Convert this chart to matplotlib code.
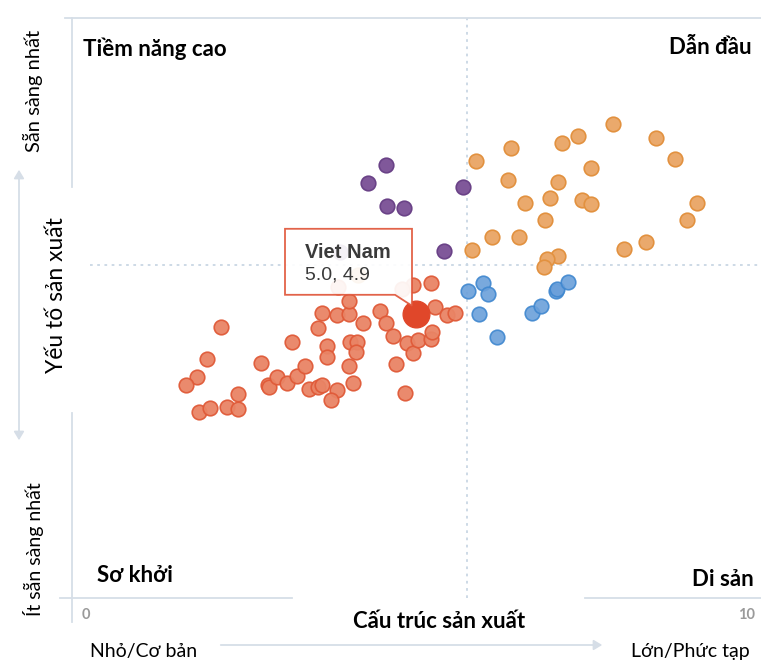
import matplotlib
matplotlib.use("Agg")
import matplotlib.pyplot as plt
import matplotlib.transforms as mtransforms
from matplotlib.patches import Polygon, FancyArrowPatch
from matplotlib.lines import Line2D

plt.rcParams['font.family'] = ['Lato', 'DejaVu Sans']

# ---------------- data ----------------
red_x = [2.16, 1.96, 1.82, 1.66, 1.85, 2.01, 2.25, 2.41, 2.41, 2.75, 2.85, 2.86, 2.98, 3.13,
         3.27, 3.39, 3.20, 3.58, 3.63, 3.85, 4.03, 4.03, 4.23, 3.71, 3.71, 4.04, 4.14, 4.13,
         4.03, 4.08, 3.85, 3.76, 3.44, 3.58, 3.63, 4.48, 4.56, 4.67, 4.71, 4.84, 4.87, 4.96,
         5.03, 5.22, 5.23, 4.96, 5.22, 5.28, 5.45, 5.57, 3.87, 4.80]
red_y = [4.67, 4.12, 3.81, 3.67, 3.21, 3.28, 3.29, 3.26, 3.52, 4.05, 3.67, 3.64, 3.81, 3.71,
         3.83, 4.00, 4.41, 4.66, 4.91, 4.88, 4.90, 5.12, 4.74, 4.34, 4.16, 4.41, 4.41, 4.24,
         4.00, 3.71, 3.59, 3.41, 3.60, 3.64, 3.67, 4.95, 4.74, 4.52, 4.03, 3.53, 4.40, 4.22,
         4.45, 4.47, 4.59, 5.40, 5.43, 5.02, 4.88, 4.91, 5.36, 5.33]

orange_x = [5.87, 6.38, 7.12, 7.35, 7.86, 8.49, 8.76, 7.54, 6.34, 7.06, 6.95, 6.58, 7.41,
            7.54, 9.08, 8.94, 6.87, 6.10, 6.50, 5.81, 7.06, 6.90, 6.86, 8.02, 8.34, 4.16]
orange_y = [7.53, 7.76, 7.84, 7.97, 8.17, 7.93, 7.57, 7.41, 7.21, 7.17, 6.90, 6.81, 6.86,
            6.79, 6.81, 6.52, 6.52, 6.22, 6.22, 6.00, 5.90, 5.84, 5.71, 6.02, 6.14, 5.57]

purple_x = [4.56, 4.30, 4.58, 4.83, 5.68, 5.41, 3.90]
purple_y = [7.47, 7.16, 6.76, 6.72, 7.09, 5.98, 5.97]

blue_x = [5.76, 5.97, 6.05, 5.92, 6.18, 6.69, 6.82, 7.03, 7.05, 7.21]
blue_y = [5.29, 5.43, 5.24, 4.90, 4.50, 4.91, 5.03, 5.29, 5.33, 5.45]

vn_name = "Viet Nam"
vn_x, vn_y = 5.0, 4.9
threshold_x = 5.74
threshold_y = 5.74

quadrant_labels = ["Tiềm năng cao", "Dẫn đầu", "Sơ khởi", "Di sản"]
x_title = "Cấu trúc sản xuất"
y_title = "Yếu tố sản xuất"
x_low, x_high = "Nhỏ/Cơ bản", "Lớn/Phức tạp"
y_high, y_low = "Sẵn sàng nhất", "Ít sẵn sàng nhất"
x_ticks = ["0", "10"]

# ---------------- styles ----------------
W, H = 761, 662
fig = plt.figure(figsize=(W / 100, H / 100), dpi=100)
ax = fig.add_axes([72 / W, (H - 598) / H, 688 / W, 580 / H])
ax.set_xlim(0, 10)
ax.set_ylim(0, 10)
ax.axis('off')

line_col = '#d6dee7'

def fx(px):
    return px / W

def fy(py):
    return 1 - py / H

# frame pieces (figure pixel coords)
segs = [((65, 18), (761, 18)),
        ((72, 18), (72, 187)), ((72, 413), (72, 622)),
        ((60, 598), (292, 598)), ((585, 598), (761, 598))]
for (x0, y0), (x1, y1) in segs:
    fig.add_artist(Line2D([fx(x0), fx(x1)], [fy(y0), fy(y1)], color=line_col, lw=1.3,
                          transform=fig.transFigure))

# threshold dotted lines
ax.axvline(threshold_x, color='#c9d7e4', lw=1.3, ls=(0, (1.5, 2.5)), zorder=0)
ax.axhline(threshold_y, xmin=0.026, color='#c9d7e4', lw=1.3, ls=(0, (1.5, 2.5)), zorder=0)

ms = 110
ax.scatter(orange_x, orange_y, s=ms, facecolor='#eaa96c', edgecolor='#e2913f', lw=1.2, zorder=2)
ax.scatter(purple_x, purple_y, s=ms, facecolor='#80589a', edgecolor='#6a4287', lw=1.2, zorder=2)
ax.scatter(blue_x, blue_y, s=ms, facecolor='#6ba0da', edgecolor='#3f87cf', lw=1.2, zorder=2,
           alpha=0.9)
ax.scatter(red_x, red_y, s=ms, facecolor='#e98465', edgecolor='#e05a38', lw=1.2, zorder=3,
           alpha=0.95)
ax.scatter([vn_x], [vn_y], s=370, facecolor='#e0472a', edgecolor='#e0472a', lw=1, zorder=4)

# callout anchored to Viet Nam point (offsets in pixels)
anchor = fig.dpi_scale_trans + mtransforms.ScaledTranslation(vn_x, vn_y, ax.transData)

verts_px = [(-131, 85), (-4, 85), (-4, 8), (-21, 19), (-131, 19)]
poly = Polygon([(a / 100, b / 100) for a, b in verts_px], closed=True,
               facecolor='white', edgecolor='#e0563a', lw=1.3, alpha=0.92,
               transform=anchor, zorder=5)
ax.add_patch(poly)
ax.text(-111 / 100, 56 / 100, vn_name, transform=anchor, fontsize=14.5,
        fontweight='bold', color='#3a3a3a', family='Liberation Sans', zorder=6, va='baseline')
ax.text(-111 / 100, 34 / 100, f"{vn_x:.1f}, {vn_y:.1f}", transform=anchor, fontsize=14,
        color='#3a3a3a', family='Liberation Sans', zorder=6, va='baseline')

# quadrant labels
qfs = 16
fig.text(fx(83), fy(49), quadrant_labels[0], fontsize=qfs, fontweight='bold', va='center',
         ha='left', color='black')
fig.text(fx(752), fy(48), quadrant_labels[1], fontsize=qfs, fontweight='bold', va='center',
         ha='right', color='black')
fig.text(fx(97), fy(576), quadrant_labels[2], fontsize=qfs, fontweight='bold', va='center',
         ha='left', color='black')
fig.text(fx(754), fy(580), quadrant_labels[3], fontsize=qfs, fontweight='bold', va='center',
         ha='right', color='black')

# tick labels
fig.text(fx(86), fy(615), x_ticks[0], fontsize=10.5, fontweight='bold', color='#9a9a9a',
         ha='center', va='center')
fig.text(fx(747), fy(615), x_ticks[1], fontsize=10.5, fontweight='bold', color='#9a9a9a',
         ha='center', va='center')

# axis titles
fig.text(fx(439), fy(621), x_title, fontsize=16, fontweight='bold', ha='center', va='center')
fig.text(fx(57), fy(295), y_title, fontsize=16.5, rotation=90, ha='center', va='center')
fig.text(fx(144), fy(651), x_low, fontsize=14, ha='center', va='center')
fig.text(fx(690), fy(651), x_high, fontsize=14, ha='center', va='center')
fig.text(fx(33), fy(91), y_high, fontsize=14.5, rotation=90, ha='center', va='center')
fig.text(fx(33), fy(549), y_low, fontsize=14, rotation=90, ha='center', va='center')

# arrows
fig.add_artist(FancyArrowPatch((fx(19), fy(443)), (fx(19), fy(167)), transform=fig.transFigure,
                               arrowstyle='<|-|>,head_length=5,head_width=3', color=line_col,
                               lw=1.3, mutation_scale=1))
fig.add_artist(FancyArrowPatch((fx(218), fy(645)), (fx(605), fy(645)), transform=fig.transFigure,
                               arrowstyle='-|>,head_length=5,head_width=3', color=line_col,
                               lw=1.3, mutation_scale=1))

fig.savefig('out.png', dpi=100)
